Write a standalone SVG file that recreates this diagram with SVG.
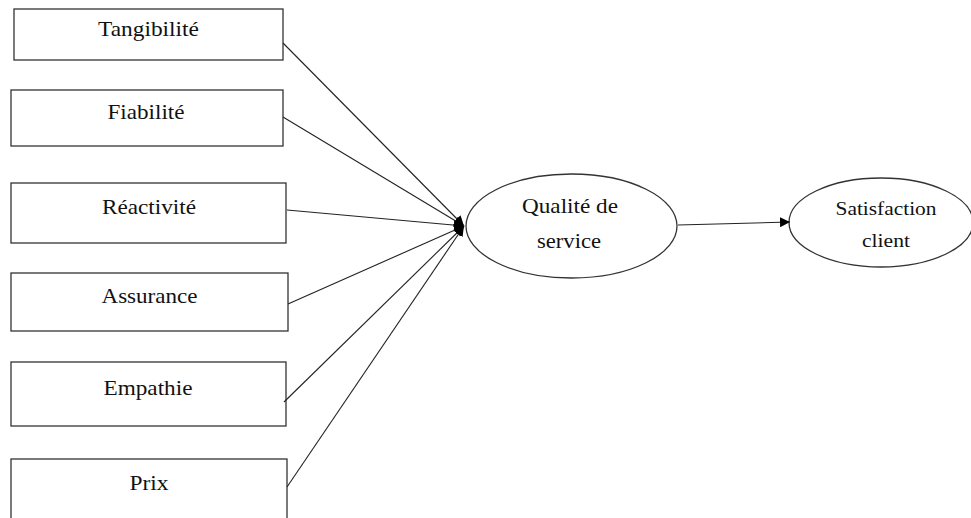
<svg xmlns="http://www.w3.org/2000/svg" width="971" height="518" viewBox="0 0 971 518">
<style>
.box{fill:#fff;stroke:#333;stroke-width:1.3}
.ell{fill:#fff;stroke:#333;stroke-width:1.3}
.t{font-family:"Liberation Serif","Times New Roman",serif;font-size:21px;fill:#111;text-anchor:middle}
.ts{font-family:"Liberation Serif","Times New Roman",serif;font-size:18px;fill:#111;text-anchor:middle}
.c{stroke:#222;stroke-width:1.1;fill:none;marker-end:url(#ah)}
</style>
<defs>
<marker id="ah" viewBox="0 0 10 10" refX="10" refY="5" markerWidth="10" markerHeight="10" markerUnits="userSpaceOnUse" orient="auto">
<path d="M0,0 L10,5 L0,10 z" fill="#000"/>
</marker>
</defs>
<rect width="971" height="518" fill="#fff"/>
<g id="n-tangibilite"><rect class="box" x="14" y="9" width="269" height="51"/><text class="t" x="148.5" y="36" textLength="101" lengthAdjust="spacingAndGlyphs">Tangibilité</text></g>
<g id="n-fiabilite"><rect class="box" x="11" y="90" width="272" height="56"/><text class="t" x="146" y="119" textLength="77" lengthAdjust="spacingAndGlyphs">Fiabilité</text></g>
<g id="n-reactivite"><rect class="box" x="11" y="183" width="275" height="60"/><text class="t" x="149" y="214" textLength="94" lengthAdjust="spacingAndGlyphs">Réactivité</text></g>
<g id="n-assurance"><rect class="box" x="11" y="273" width="277" height="58"/><text class="t" x="149.5" y="303" textLength="96" lengthAdjust="spacingAndGlyphs">Assurance</text></g>
<g id="n-empathie"><rect class="box" x="11" y="362" width="275" height="64"/><text class="t" x="148" y="395" textLength="89" lengthAdjust="spacingAndGlyphs">Empathie</text></g>
<g id="n-prix"><rect class="box" x="11" y="459" width="276" height="80"/><text class="t" x="149" y="490" textLength="39" lengthAdjust="spacingAndGlyphs">Prix</text></g>
<g id="n-qualite"><ellipse class="ell" cx="571.5" cy="226" rx="105.5" ry="52"/><text class="t" x="570" y="213" textLength="96" lengthAdjust="spacingAndGlyphs">Qualité de</text><text class="t" x="569" y="248" textLength="64" lengthAdjust="spacingAndGlyphs">service</text></g>
<g id="n-satisfaction"><ellipse class="ell" cx="881" cy="222.5" rx="92" ry="44.5"/><text class="ts" x="886" y="215" textLength="101" lengthAdjust="spacingAndGlyphs">Satisfaction</text><text class="ts" x="886" y="247" textLength="48" lengthAdjust="spacingAndGlyphs">client</text></g>
<g id="connectors">
<line class="c" x1="283" y1="43" x2="464" y2="226"/>
<line class="c" x1="283" y1="117" x2="464" y2="226"/>
<line class="c" x1="287" y1="210" x2="464" y2="226"/>
<line class="c" x1="288" y1="304" x2="464" y2="226"/>
<line class="c" x1="284" y1="402" x2="464" y2="226"/>
<line class="c" x1="287" y1="487" x2="464" y2="226"/>
<line class="c" x1="678" y1="225" x2="790" y2="222"/>
</g>
</svg>
